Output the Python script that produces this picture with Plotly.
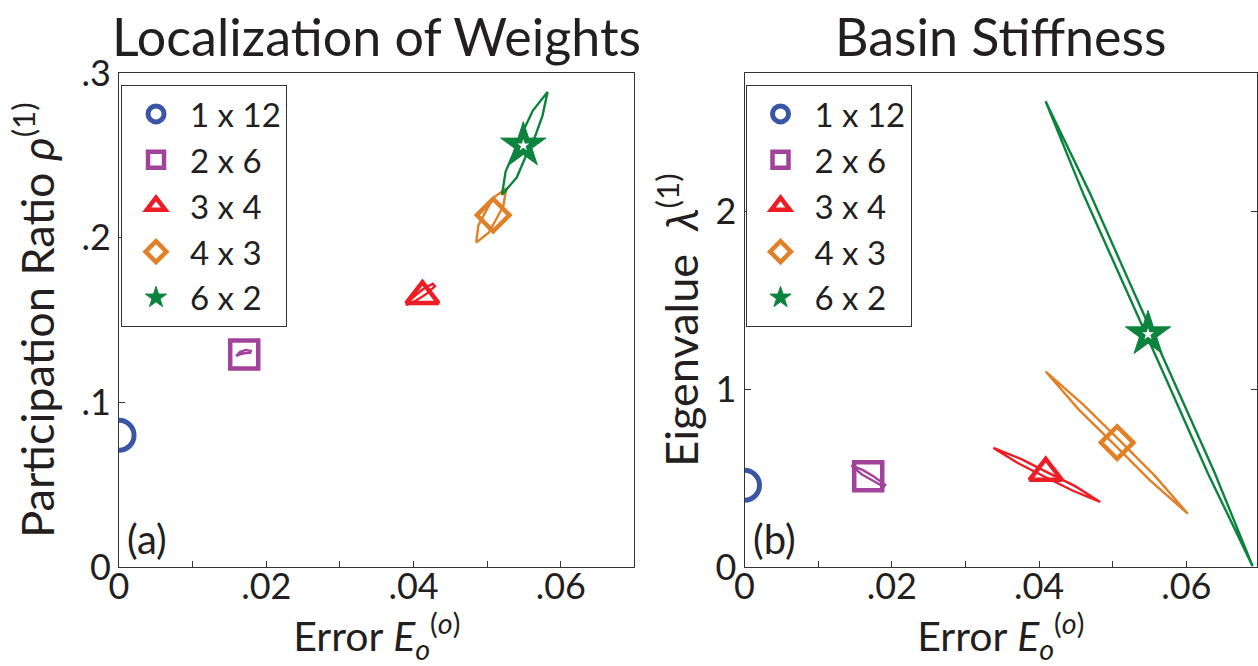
import plotly.graph_objects as go

# ---------------- data ----------------
labels = ["1 x 12", "2 x 6", "3 x 4", "4 x 3", "6 x 2"]
colors = ["#3A55A6", "#A2439B", "#EC1D25", "#E08128", "#0D843E"]
symbols = ["circle-open", "square-open", "triangle-up-open", "diamond-open", "star"]

# panel (a): Participation ratio vs error (mean values)
err_a = [0.0, 0.0170, 0.0412, 0.0508, 0.0549]
pr_a = [0.080, 0.129, 0.1645, 0.2137, 0.256]

# panel (b): eigenvalue vs error (mean values)
err_b = [0.0, 0.0168, 0.0409, 0.0506, 0.0548]
eig_b = [0.46, 0.51, 0.53, 0.70, 1.31]

# trajectories (closed loops), panel (a)
loop_a_x = [
    [],
    [0.0159, 0.0164, 0.0172, 0.0179, 0.0178, 0.0170, 0.0163, 0.0159],
    [0.0390, 0.0404, 0.0418, 0.0429, 0.0426, 0.0412, 0.0397, 0.0390],
    [0.0485, 0.0502, 0.0512, 0.0522, 0.0526, 0.0508, 0.0498, 0.0488, 0.0485],
    [0.0520, 0.0540, 0.0552, 0.0565, 0.0575, 0.0582, 0.0562, 0.0549, 0.0537, 0.0525, 0.0520],
]
loop_a_y = [
    [],
    [0.1280, 0.1305, 0.1318, 0.1312, 0.1300, 0.1298, 0.1290, 0.1280],
    [0.1590, 0.1620, 0.1660, 0.1705, 0.1720, 0.1685, 0.1628, 0.1590],
    [0.1970, 0.2030, 0.2110, 0.2195, 0.2300, 0.2240, 0.2160, 0.2075, 0.1970],
    [0.2260, 0.2365, 0.2490, 0.2615, 0.2740, 0.2885, 0.2772, 0.2650, 0.2525, 0.2402, 0.2260],
]

# trajectories (closed loops), panel (b)
loop_b_x = [
    [],
    [0.0145, 0.0161, 0.0176, 0.0191, 0.0189, 0.0174, 0.0159, 0.0145],
    [0.0338, 0.0376, 0.0412, 0.0449, 0.0483, 0.0446, 0.0409, 0.0373, 0.0338],
    [0.0409, 0.0460, 0.0509, 0.0557, 0.0602, 0.0551, 0.0503, 0.0454, 0.0409],
    [0.0409, 0.0469, 0.0525, 0.0582, 0.0638, 0.0690, 0.0630, 0.0574, 0.0517, 0.0461, 0.0409],
]
loop_b_y = [
    [],
    [0.572, 0.545, 0.508, 0.462, 0.452, 0.485, 0.522, 0.572],
    [0.670, 0.607, 0.531, 0.455, 0.366, 0.429, 0.505, 0.581, 0.670],
    [1.100, 0.914, 0.714, 0.514, 0.300, 0.486, 0.686, 0.886, 1.100],
    [2.620, 2.104, 1.581, 1.058, 0.535, 0.005, 0.521, 1.044, 1.567, 2.090, 2.620],
]

x_tickvals = [0, 0.02, 0.04, 0.06]
x_ticktext = ["0", ".02", ".04", ".06"]
x_minorvals = [0.01, 0.03, 0.05]
ya_tickvals = [0, 0.1, 0.2, 0.3]
ya_ticktext = ["0", ".1", ".2", ".3"]
yb_tickvals = [0, 1, 2]
yb_ticktext = ["0", "1", "2"]

# ---------------- style ----------------
FONT = "Lato"
TXT = "#231F20"
msizes = [30, 28, 28, 25, 34]
mlw = [5, 4.5, 4.5, 4.5, 1]

fig = go.Figure()

for i in range(5):
    if loop_a_x[i]:
        fig.add_trace(go.Scatter(x=loop_a_x[i], y=loop_a_y[i], mode="lines",
                                 line=dict(color=colors[i], width=2.4),
                                 showlegend=False, hoverinfo="skip",
                                 xaxis="x", yaxis="y"))
    if loop_b_x[i]:
        fig.add_trace(go.Scatter(x=loop_b_x[i], y=loop_b_y[i], mode="lines",
                                 line=dict(color=colors[i], width=2.4),
                                 showlegend=False, hoverinfo="skip",
                                 xaxis="x2", yaxis="y2"))

for i in range(5):
    mk = dict(symbol=symbols[i], size=msizes[i], color=colors[i],
              line=dict(color=colors[i], width=mlw[i]))
    fig.add_trace(go.Scatter(x=[err_a[i]], y=[pr_a[i]], mode="markers",
                             marker=mk, name=labels[i], legend="legend",
                             xaxis="x", yaxis="y"))
    fig.add_trace(go.Scatter(x=[err_b[i]], y=[eig_b[i]], mode="markers",
                             marker=mk, name=labels[i], legend="legend2",
                             xaxis="x2", yaxis="y2"))

# small white star in the centre of the pentagram markers
inner = dict(symbol="star", size=9, color="white", line=dict(width=0))
fig.add_trace(go.Scatter(x=[err_a[4]], y=[pr_a[4]], mode="markers", marker=inner,
                         showlegend=False, hoverinfo="skip", xaxis="x", yaxis="y"))
fig.add_trace(go.Scatter(x=[err_b[4]], y=[eig_b[4]], mode="markers", marker=inner,
                         showlegend=False, hoverinfo="skip", xaxis="x2", yaxis="y2"))

W, H = 1258, 666
axcol = "#333333"
tickfont = dict(family=FONT, size=36, color=TXT)
titlefont = dict(family=FONT, size=41, color=TXT)
ytitlefont = dict(family=FONT, size=45, color=TXT)

common_x = dict(range=[0, 0.07], tickmode="array", tickvals=x_tickvals, ticktext=x_ticktext,
                minor=dict(tickmode="array", tickvals=x_minorvals, ticks="inside", ticklen=6,
                           tickcolor=axcol),
                ticks="inside", ticklen=6, tickcolor=axcol, showline=True, linecolor=axcol,
                linewidth=1, mirror=True, showgrid=False, zeroline=False, tickfont=tickfont,
                ticklabelstandoff=-12,
                title=dict(text="Error <i>E</i><sub><i>o</i></sub><sup>(<i>o</i>)</sup>",
                           font=titlefont, standoff=14))

common_y = dict(domain=[0, 1], tickmode="array", ticks="inside", ticklen=6,
                tickcolor=axcol, showline=True, linecolor=axcol, linewidth=1,
                showgrid=False, zeroline=False, tickfont=tickfont)

legfont = dict(family=FONT, size=33, color=TXT)

fig.update_layout(
    width=W, height=H,
    margin=dict(l=0, r=0, t=73, b=99),
    paper_bgcolor="white", plot_bgcolor="white",
    font=dict(family=FONT, color=TXT),
    xaxis=dict(domain=[110 / W, 630 / W], anchor="y", **common_x),
    xaxis2=dict(domain=[741 / W, 1.0], anchor="y2", **{**common_x, "range": [0, 0.07 * 517 / 520]}),
    yaxis=dict(anchor="x", range=[0, 0.3], tickvals=ya_tickvals, ticktext=ya_ticktext,
               mirror=True,
               title=dict(text="Participation Ratio <i>ρ</i><sup>(1)</sup>", font=ytitlefont,
                          standoff=12),
               **common_y),
    yaxis2=dict(anchor="x2", range=[0, 2.78], tickvals=yb_tickvals, ticktext=yb_ticktext,
                mirror="ticks",
                title=dict(text="Eigenvalue  <i>λ</i><sup>(1)</sup>", font=ytitlefont,
                           standoff=2),
                **common_y),
    legend=dict(x=112 / W, y=(567 - 85) / 494, xanchor="left", yanchor="top",
                bgcolor="white", bordercolor=axcol, borderwidth=1, itemwidth=58,
                font=legfont, tracegroupgap=0),
    legend2=dict(x=742 / W, y=(567 - 85) / 494, xanchor="left", yanchor="top",
                 bgcolor="white", bordercolor=axcol, borderwidth=1, itemwidth=58,
                 font=legfont, tracegroupgap=0),
    showlegend=True,
    annotations=[
        dict(text="Localization of Weights", x=370 / W, y=1 + (73 - 36) / 494, xref="paper",
             yref="paper", showarrow=False, xanchor="center", yanchor="middle",
             font=dict(family=FONT, size=52, color=TXT)),
        dict(text="Basin Stiffness", x=1000 / W, y=1 + (73 - 36) / 494, xref="paper",
             yref="paper", showarrow=False, xanchor="center", yanchor="middle",
             font=dict(family=FONT, size=52, color=TXT)),
        dict(text="(a)", x=0.0, y=0.0, xref="x", yref="y", showarrow=False,
             xanchor="left", yanchor="bottom", xshift=6, yshift=2,
             font=dict(family=FONT, size=40, color=TXT)),
        dict(text="(b)", x=0.0, y=0.0, xref="x2", yref="y2", showarrow=False,
             xanchor="left", yanchor="bottom", xshift=6, yshift=2,
             font=dict(family=FONT, size=40, color=TXT)),
    ],
)

fig.write_html("out.html")
